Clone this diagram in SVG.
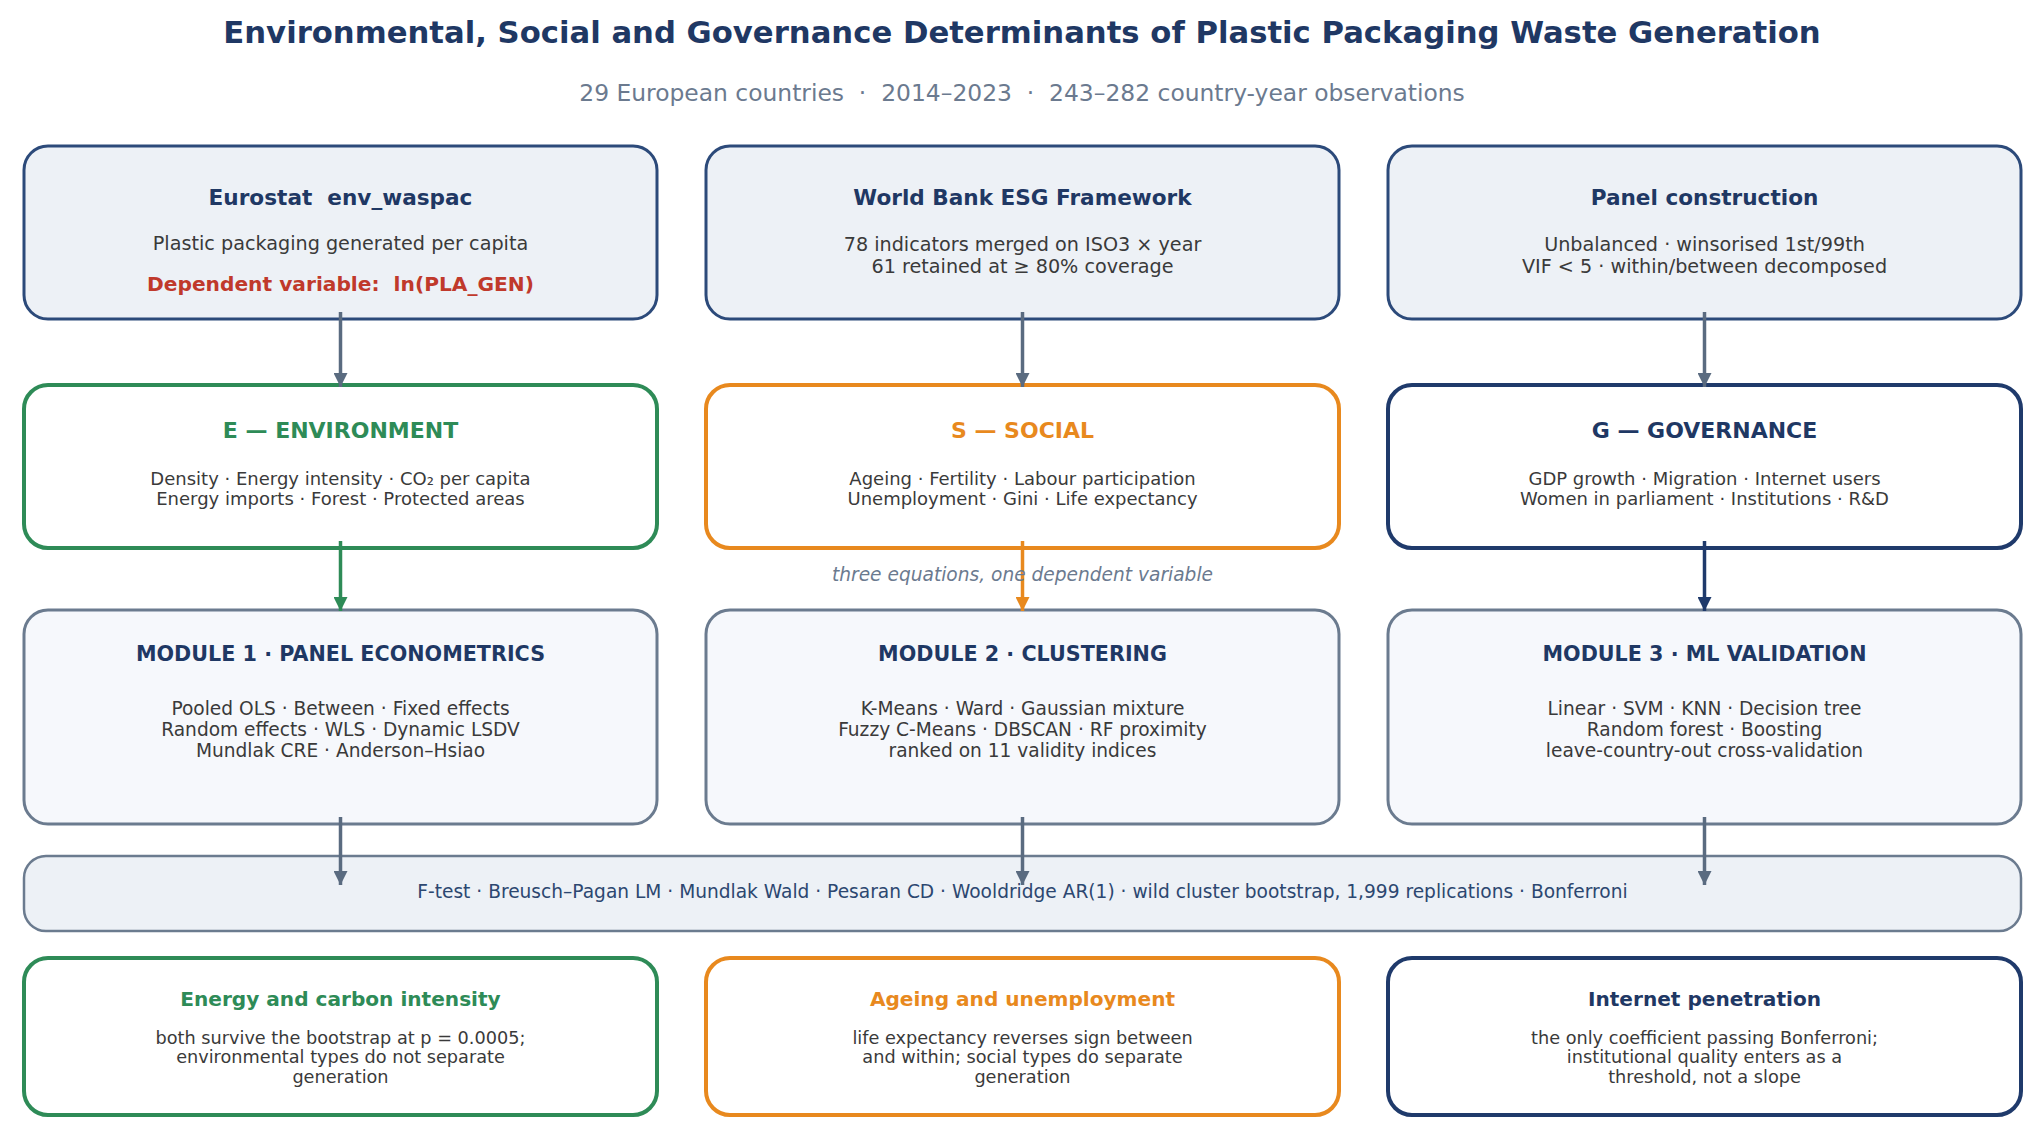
<svg xmlns="http://www.w3.org/2000/svg" width="2044" height="1137" viewBox="0 0 2044 1137">
<defs>
<style>
text{font-family:"DejaVu Sans","Liberation Sans",sans-serif;text-anchor:middle;white-space:pre}
.title{font-size:30.7px;font-weight:bold;fill:#1f3864}
.sub{font-size:23.4px;fill:#6b7a8f}
.src{fill:#edf1f6;stroke:#2c4a7a;stroke-width:3}
.e{fill:#ffffff;stroke:#2e8b57;stroke-width:4}
.s{fill:#ffffff;stroke:#e8891e;stroke-width:4}
.g{fill:#ffffff;stroke:#1f3a6b;stroke-width:4}
.mod{fill:#f6f8fc;stroke:#6b7b8f;stroke-width:3}
.bar{fill:#edf1f6;stroke:#6b7b8f;stroke-width:2.5}
.h1{font-size:21.6px;font-weight:bold;fill:#1f3864}
.b1{font-size:19.2px;fill:#3a3a3a}
.red{font-size:20.2px;font-weight:bold;fill:#c0392b}
.h2{font-size:22px;font-weight:bold}
.b2{font-size:18px;fill:#3a3a3a}
.h3{font-size:20.7px;font-weight:bold;fill:#1f3864}
.b3{font-size:18.6px;fill:#3a3a3a}
.h5{font-size:20.1px;font-weight:bold}
.b5{font-size:17.7px;fill:#3a3a3a}
.ce{fill:#2e8b57}.cs{fill:#e8891e}.cg{fill:#1f3864}
.note{font-size:18.6px;font-style:italic;fill:#6b7a8f}
.bt{font-size:18.6px;fill:#2c4770}
.ln{stroke-width:3.5;fill:none}
</style>
<marker id="ag" viewBox="0 0 14 14" refX="14" refY="7" markerWidth="14" markerHeight="14" markerUnits="userSpaceOnUse" orient="auto"><path d="M0,0 L14,7 L0,14 z" fill="#5a6b80"/></marker>
<marker id="ae" viewBox="0 0 14 14" refX="14" refY="7" markerWidth="14" markerHeight="14" markerUnits="userSpaceOnUse" orient="auto"><path d="M0,0 L14,7 L0,14 z" fill="#2e8b57"/></marker>
<marker id="as" viewBox="0 0 14 14" refX="14" refY="7" markerWidth="14" markerHeight="14" markerUnits="userSpaceOnUse" orient="auto"><path d="M0,0 L14,7 L0,14 z" fill="#e8891e"/></marker>
<marker id="an" viewBox="0 0 14 14" refX="14" refY="7" markerWidth="14" markerHeight="14" markerUnits="userSpaceOnUse" orient="auto"><path d="M0,0 L14,7 L0,14 z" fill="#1f3a6b"/></marker>
</defs>
<rect width="2044" height="1137" fill="#ffffff"/>
<text class="title" x="1022" y="43">Environmental, Social and Governance Determinants of Plastic Packaging Waste Generation</text>
<text class="sub" x="1022" y="101" xml:space="preserve">29 European countries  ·  2014–2023  ·  243–282 country-year observations</text>

<g id="eurostat"><rect class="src" x="24" y="146" width="633" height="173" rx="24"/>
<text class="h1" x="340.5" y="205" xml:space="preserve">Eurostat  env_waspac</text>
<text class="b1" x="340.5" y="250">Plastic packaging generated per capita</text>
<text class="red" x="340.5" y="291" xml:space="preserve">Dependent variable:  ln(PLA_GEN)</text></g>

<g id="worldbank"><rect class="src" x="706" y="146" width="633" height="173" rx="24"/>
<text class="h1" x="1022.5" y="205">World Bank ESG Framework</text>
<text class="b1" x="1022.5" y="251">78 indicators merged on ISO3 × year</text>
<text class="b1" x="1022.5" y="273">61 retained at ≥ 80% coverage</text></g>

<g id="panel"><rect class="src" x="1388" y="146" width="633" height="173" rx="24"/>
<text class="h1" x="1704.5" y="205">Panel construction</text>
<text class="b1" x="1704.5" y="251">Unbalanced · winsorised 1st/99th</text>
<text class="b1" x="1704.5" y="273">VIF &lt; 5 · within/between decomposed</text></g>

<g id="env"><rect class="e" x="24" y="385" width="633" height="163" rx="24"/>
<text class="h2 ce" x="340.5" y="438">E — ENVIRONMENT</text>
<text class="b2" x="340.5" y="485">Density · Energy intensity · CO₂ per capita</text>
<text class="b2" x="340.5" y="505">Energy imports · Forest · Protected areas</text></g>

<g id="soc"><rect class="s" x="706" y="385" width="633" height="163" rx="24"/>
<text class="h2 cs" x="1022.5" y="438">S — SOCIAL</text>
<text class="b2" x="1022.5" y="485">Ageing · Fertility · Labour participation</text>
<text class="b2" x="1022.5" y="505">Unemployment · Gini · Life expectancy</text></g>

<g id="gov"><rect class="g" x="1388" y="385" width="633" height="163" rx="24"/>
<text class="h2 cg" x="1704.5" y="438">G — GOVERNANCE</text>
<text class="b2" x="1704.5" y="485">GDP growth · Migration · Internet users</text>
<text class="b2" x="1704.5" y="505">Women in parliament · Institutions · R&amp;D</text></g>

<g id="mod1"><rect class="mod" x="24" y="610" width="633" height="214" rx="24"/>
<text class="h3" x="340.5" y="661">MODULE 1 · PANEL ECONOMETRICS</text>
<text class="b3" x="340.5" y="715">Pooled OLS · Between · Fixed effects</text>
<text class="b3" x="340.5" y="736">Random effects · WLS · Dynamic LSDV</text>
<text class="b3" x="340.5" y="757">Mundlak CRE · Anderson–Hsiao</text></g>

<g id="mod2"><rect class="mod" x="706" y="610" width="633" height="214" rx="24"/>
<text class="h3" x="1022.5" y="661">MODULE 2 · CLUSTERING</text>
<text class="b3" x="1022.5" y="715">K-Means · Ward · Gaussian mixture</text>
<text class="b3" x="1022.5" y="736">Fuzzy C-Means · DBSCAN · RF proximity</text>
<text class="b3" x="1022.5" y="757">ranked on 11 validity indices</text></g>

<g id="mod3"><rect class="mod" x="1388" y="610" width="633" height="214" rx="24"/>
<text class="h3" x="1704.5" y="661">MODULE 3 · ML VALIDATION</text>
<text class="b3" x="1704.5" y="715">Linear · SVM · KNN · Decision tree</text>
<text class="b3" x="1704.5" y="736">Random forest · Boosting</text>
<text class="b3" x="1704.5" y="757">leave-country-out cross-validation</text></g>

<g id="tests"><rect class="bar" x="24" y="856" width="1997" height="75" rx="22"/>
<text class="bt" x="1022.5" y="898">F-test · Breusch–Pagan LM · Mundlak Wald · Pesaran CD · Wooldridge AR(1) · wild cluster bootstrap, 1,999 replications · Bonferroni</text></g>

<g id="res-e"><rect class="e" x="24" y="958" width="633" height="157" rx="24"/>
<text class="h5 ce" x="340.5" y="1006">Energy and carbon intensity</text>
<text class="b5" x="340.5" y="1044">both survive the bootstrap at p = 0.0005;</text>
<text class="b5" x="340.5" y="1063">environmental types do not separate</text>
<text class="b5" x="340.5" y="1083">generation</text></g>

<g id="res-s"><rect class="s" x="706" y="958" width="633" height="157" rx="24"/>
<text class="h5 cs" x="1022.5" y="1006">Ageing and unemployment</text>
<text class="b5" x="1022.5" y="1044">life expectancy reverses sign between</text>
<text class="b5" x="1022.5" y="1063">and within; social types do separate</text>
<text class="b5" x="1022.5" y="1083">generation</text></g>

<g id="res-g"><rect class="g" x="1388" y="958" width="633" height="157" rx="24"/>
<text class="h5 cg" x="1704.5" y="1006">Internet penetration</text>
<text class="b5" x="1704.5" y="1044">the only coefficient passing Bonferroni;</text>
<text class="b5" x="1704.5" y="1063">institutional quality enters as a</text>
<text class="b5" x="1704.5" y="1083">threshold, not a slope</text></g>

<g id="connectors">
<line class="ln" x1="340.5" y1="312" x2="340.5" y2="387" stroke="#5a6b80" marker-end="url(#ag)"/>
<line class="ln" x1="1022.5" y1="312" x2="1022.5" y2="387" stroke="#5a6b80" marker-end="url(#ag)"/>
<line class="ln" x1="1704.5" y1="312" x2="1704.5" y2="387" stroke="#5a6b80" marker-end="url(#ag)"/>
<line class="ln" x1="340.5" y1="541" x2="340.5" y2="611" stroke="#2e8b57" marker-end="url(#ae)"/>
<line class="ln" x1="1022.5" y1="541" x2="1022.5" y2="611" stroke="#e8891e" marker-end="url(#as)"/>
<line class="ln" x1="1704.5" y1="541" x2="1704.5" y2="611" stroke="#1f3a6b" marker-end="url(#an)"/>
<line class="ln" x1="340.5" y1="817" x2="340.5" y2="885" stroke="#5a6b80" marker-end="url(#ag)"/>
<line class="ln" x1="1022.5" y1="817" x2="1022.5" y2="885" stroke="#5a6b80" marker-end="url(#ag)"/>
<line class="ln" x1="1704.5" y1="817" x2="1704.5" y2="885" stroke="#5a6b80" marker-end="url(#ag)"/>
<text class="note" x="1022.5" y="581">three equations, one dependent variable</text>
</g>
</svg>
